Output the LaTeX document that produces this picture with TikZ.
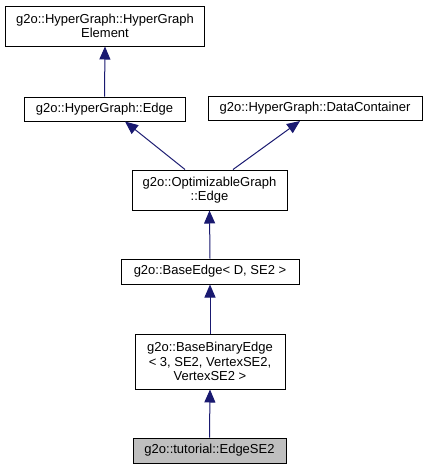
\documentclass[tikz,border=0pt]{standalone}
\usepackage{fontspec}
\setmainfont{Liberation Sans}
\usetikzlibrary{arrows.meta}
\definecolor{edgeblue}{HTML}{191970}
\definecolor{graybox}{HTML}{BFBFBF}
\tikzset{
  cls/.style={draw=black, line width=1pt, fill=white, rectangle, inner sep=0pt, align=center,
    font=\fontsize{13}{14.7}\selectfont, text=black},
  inh/.style={draw=edgeblue, line width=1pt, -{Triangle[length=13pt,width=11pt]}, color=edgeblue}
}
\begin{document}
\begin{tikzpicture}[x=1pt,y=-1pt]
\useasboundingbox (0,0) rectangle (427,469);
\node[cls, minimum width=199pt, minimum height=40pt] (n1) at (105,26) {g2o::HyperGraph::HyperGraph\\Element};
\node[cls, minimum width=161pt, minimum height=24pt] (n2) at (104.5,109) {g2o::HyperGraph::Edge};
\node[cls, minimum width=214pt, minimum height=24pt] (n3) at (315,108.5) {g2o::HyperGraph::DataContainer};
\node[cls, minimum width=155pt, minimum height=40pt] (n4) at (209.5,190) {g2o::OptimizableGraph\\::Edge};
\node[cls, minimum width=178pt, minimum height=25pt] (n5) at (210,271.5) {g2o::BaseEdge< D, SE2 >};
\node[cls, minimum width=150pt, minimum height=55pt] (n6) at (210,361.5) {g2o::BaseBinaryEdge\\< 3, SE2, VertexSE2,\\VertexSE2 >};
\node[cls, fill=graybox, minimum width=153pt, minimum height=25pt] (n7) at (209.5,450.5) {g2o::tutorial::EdgeSE2};
\draw[inh] (n2.north) -- (n1.south);
\draw[inh] ([xshift=-24.5pt]n4.north) -- ([xshift=20.5pt]n2.south);
\draw[inh] ([xshift=23.5pt]n4.north) -- ([xshift=-15pt]n3.south);
\draw[inh] (n5.north) -- (n4.south);
\draw[inh] (n6.north) -- (n5.south);
\draw[inh] (n7.north) -- (n6.south);
\end{tikzpicture}
\end{document}
